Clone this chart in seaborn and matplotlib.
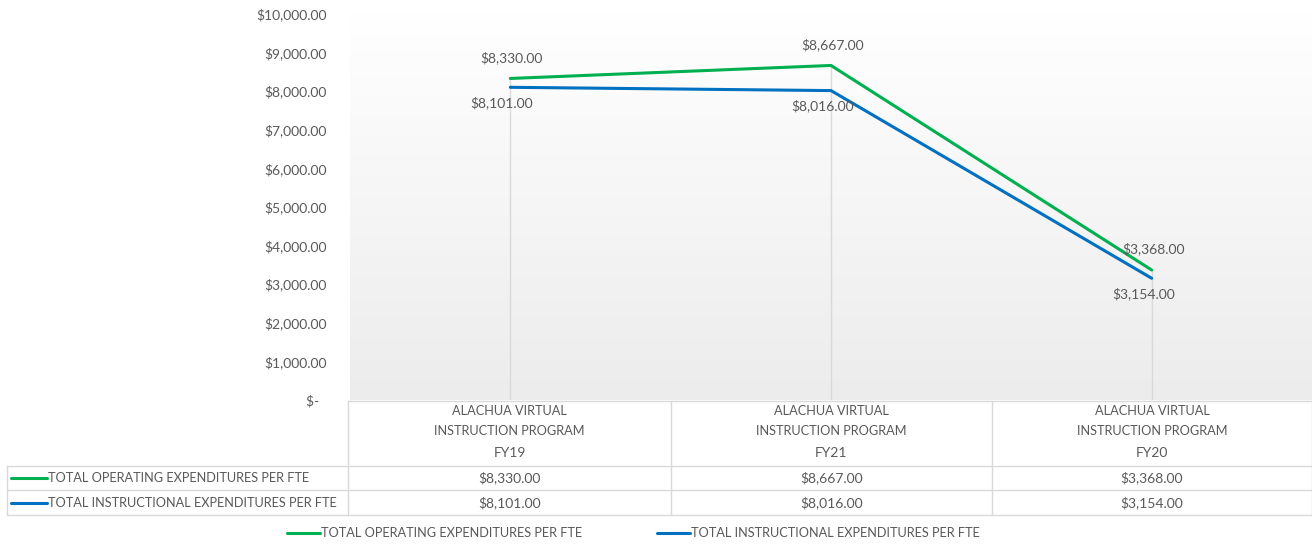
import numpy as np
import pandas as pd
import seaborn as sns
import matplotlib.pyplot as plt
from matplotlib.colors import LinearSegmentedColormap
from matplotlib.ticker import FuncFormatter

# data
categories = ["FY19", "FY21", "FY20"]
program = ["ALACHUA VIRTUAL", "INSTRUCTION PROGRAM"]
series_names = ["TOTAL OPERATING EXPENDITURES PER FTE",
                "TOTAL INSTRUCTIONAL EXPENDITURES PER FTE"]
operating = [8330, 8667, 3368]
instructional = [8101, 8016, 3154]
colors = ["#00B050", "#0070C0"]

W, H = 1312, 545
TXT = "#595959"
GRID = "#d9d9d9"


def money(v):
    return f"${v:,.2f}"


def px(x, y):
    return x / W, 1 - y / H


def main():
    sns.set_theme(style="white")
    plt.rcParams["font.family"] = ["Lato", "DejaVu Sans"]
    fs = 10     # numbers
    fs_cap = 9.2  # upper-case labels

    df = pd.DataFrame({
        "year": categories * 2,
        "value": operating + instructional,
        "series": [series_names[0]] * 3 + [series_names[1]] * 3,
    })

    fig = plt.figure(figsize=(W / 100, H / 100), dpi=100)
    ax = fig.add_axes([350 / W, (H - 400) / H, 962 / W, 386 / H])

    # plot area gradient, white to light grey
    grad = np.linspace(0, 1, 256).reshape(-1, 1)
    ax.imshow(grad, extent=[-0.5, 2.5, 0, 10000], aspect="auto",
              cmap=LinearSegmentedColormap.from_list("g", ["#ffffff", "#ececec"]),
              origin="upper", zorder=0)

    # drop lines
    for i in range(len(categories)):
        ax.vlines(i, 0, max(operating[i], instructional[i]), color=GRID, lw=1, zorder=1)

    sns.lineplot(data=df, x="year", y="value", hue="series", palette=colors,
                 linewidth=2.2, ax=ax, legend=False, zorder=3)

    ax.set_xlim(-0.5, 2.5)
    ax.set_ylim(0, 10000)
    ax.set_yticks(np.arange(0, 10001, 1000))
    ax.yaxis.set_major_formatter(FuncFormatter(lambda v, p: "$-  " if v == 0 else money(v)))
    ax.tick_params(axis="y", length=0, pad=17, labelsize=fs, labelcolor=TXT)
    ax.set_xticks([])
    ax.set_xlabel("")
    ax.set_ylabel("")
    for s in ax.spines.values():
        s.set_visible(False)

    # data labels
    for i in range(len(categories)):
        ax.annotate(money(operating[i]), (i, operating[i]), xytext=(1, 15),
                    textcoords="offset points", ha="center", va="center",
                    fontsize=fs, color=TXT)
        ax.annotate(money(instructional[i]), (i, instructional[i]), xytext=(-6, -11),
                    textcoords="offset points", ha="center", va="center",
                    fontsize=fs, color=TXT)

    # data table below the plot
    cols = [348, 671, 992, 1312]
    line_kw = dict(color=GRID, lw=1, transform=fig.transFigure)
    fig.add_artist(plt.Line2D(*zip(px(348, 401), px(1312, 401)), **line_kw))
    for y in [466, 490, 515]:
        fig.add_artist(plt.Line2D(*zip(px(7, y), px(1312, y)), **line_kw))
    for x in cols:
        fig.add_artist(plt.Line2D(*zip(px(x, 401), px(x, 515)), **line_kw))
    fig.add_artist(plt.Line2D(*zip(px(7, 466), px(7, 515)), **line_kw))

    for i, cat in enumerate(categories):
        cx = (cols[i] + cols[i + 1]) / 2
        fig.text(*px(cx, 411), program[0], ha="center", va="center", fontsize=fs_cap, color=TXT)
        fig.text(*px(cx, 431), program[1], ha="center", va="center", fontsize=fs_cap, color=TXT)
        fig.text(*px(cx, 453), cat, ha="center", va="center", fontsize=fs, color=TXT)
        fig.text(*px(cx, 478), money(operating[i]), ha="center", va="center", fontsize=fs, color=TXT)
        fig.text(*px(cx, 503), money(instructional[i]), ha="center", va="center", fontsize=fs, color=TXT)

    for name, col, y in zip(series_names, colors, [478, 503]):
        fig.add_artist(plt.Line2D(*zip(px(11, y), px(47, y)), color=col, lw=2.2,
                                  transform=fig.transFigure))
        fig.text(*px(48, y), name, ha="left", va="center", fontsize=fs_cap, color=TXT)

    # legend at the bottom
    for name, col, x0 in zip(series_names, colors, [287, 657]):
        fig.add_artist(plt.Line2D(*zip(px(x0, 533), px(x0 + 33, 533)), color=col, lw=2.2,
                                  transform=fig.transFigure))
        fig.text(*px(x0 + 34, 533), name, ha="left", va="center", fontsize=fs_cap, color=TXT)

    fig.savefig("out.png", dpi=100)


if __name__ == "__main__":
    main()
